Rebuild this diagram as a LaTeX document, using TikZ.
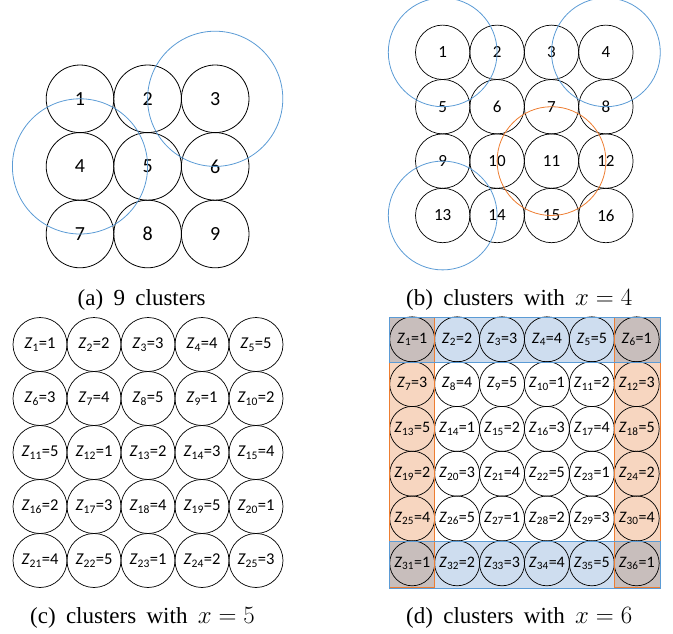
\documentclass[tikz,border=0pt]{standalone}
\usepackage{fontspec}
\setmainfont{Liberation Serif}
\newfontfamily\calfont{Carlito}
\usepackage{tikz}

\definecolor{cblue}{RGB}{91,155,213}
\definecolor{corange}{RGB}{237,125,49}
\definecolor{fblue}{RGB}{206,221,239}
\definecolor{forange}{RGB}{247,214,192}
\definecolor{fcorner}{RGB}{200,190,188}

\newcommand{\zlab}[2]{\textit{Z}\textsubscript{#1}=#2}
\newcommand{\gap}{\hspace{0.45em}}

\tikzset{
  cla/.style={circle, draw, line width=0.8pt, minimum size=67.6pt, inner sep=0pt, font=\calfont\fontsize{20}{24}\selectfont},
  clb/.style={circle, draw, line width=0.7pt, minimum size=54.4pt, inner sep=0pt, font=\calfont\fontsize{17}{20}\selectfont},
  clc/.style={circle, draw, line width=0.7pt, minimum size=54pt, inner sep=0pt, font=\calfont\fontsize{16.5}{20}\selectfont},
  cld/.style={circle, draw, line width=0.7pt, minimum size=45pt, inner sep=0pt, font=\calfont\fontsize{16}{19}\selectfont},
  cover/.style={line width=0.8pt},
  caption/.style={font=\fontsize{23}{27}\selectfont}
}

\begin{document}
\begin{tikzpicture}[x=1pt,y=1pt,yscale=-1,xscale=1]
\useasboundingbox (0,0) rectangle (673,634);

% (a) 9 clusters
\node [cla] (a1) at (80,98.8) {1};
\node [cla] (a2) at (147.6,98.8) {2};
\node [cla] (a3) at (215.2,98.8) {3};
\node [cla] (a4) at (80,166.4) {4};
\node [cla] (a5) at (147.6,166.4) {5};
\node [cla] (a6) at (215.2,166.4) {6};
\node [cla] (a7) at (80,234) {7};
\node [cla] (a8) at (147.6,234) {8};
\node [cla] (a9) at (215.2,234) {9};
%Coverage
\draw [cover, cblue] (a4.center) circle (67.6);
\draw [cover, cblue] (a3.center) circle (67.6);
% Text Node
\node [caption] (capa) at (141.7,299.5) {(a)\gap 9\gap clusters};

% (b) clusters with x = 4
\node [clb] (b1) at (442.7,52.3) {1};
\node [clb] (b2) at (497.1,52.3) {2};
\node [clb] (b3) at (551.5,52.3) {3};
\node [clb] (b4) at (605.9,52.3) {4};
\node [clb] (b5) at (442.7,106.7) {5};
\node [clb] (b6) at (497.1,106.7) {6};
\node [clb] (b7) at (551.5,106.7) {7};
\node [clb] (b8) at (605.9,106.7) {8};
\node [clb] (b9) at (442.7,161.1) {9};
\node [clb] (b10) at (497.1,161.1) {10};
\node [clb] (b11) at (551.5,161.1) {11};
\node [clb] (b12) at (605.9,161.1) {12};
\node [clb] (b13) at (442.7,215.5) {13};
\node [clb] (b14) at (497.1,215.5) {14};
\node [clb] (b15) at (551.5,215.5) {15};
\node [clb] (b16) at (605.9,215.5) {16};
%Coverage
\draw [cover, cblue] (b1.center) circle (54.4);
\draw [cover, cblue] (b4.center) circle (54.4);
\draw [cover, cblue] (b13.center) circle (54.4);
\draw [cover, corange] (b11.center) circle (54.4);
% Text Node
\node [caption] (capb) at (519.2,299.5) {(b)\gap clusters\gap with\gap $x = 4$};

% (c) clusters with x = 5
\node [clc] (c1) at (40,344.5) {\zlab{1}{1}};
\node [clc] (c2) at (94,344.5) {\zlab{2}{2}};
\node [clc] (c3) at (148,344.5) {\zlab{3}{3}};
\node [clc] (c4) at (202,344.5) {\zlab{4}{4}};
\node [clc] (c5) at (256,344.5) {\zlab{5}{5}};
\node [clc] (c6) at (40,398.5) {\zlab{6}{3}};
\node [clc] (c7) at (94,398.5) {\zlab{7}{4}};
\node [clc] (c8) at (148,398.5) {\zlab{8}{5}};
\node [clc] (c9) at (202,398.5) {\zlab{9}{1}};
\node [clc] (c10) at (256,398.5) {\zlab{10}{2}};
\node [clc] (c11) at (40,452.5) {\zlab{11}{5}};
\node [clc] (c12) at (94,452.5) {\zlab{12}{1}};
\node [clc] (c13) at (148,452.5) {\zlab{13}{2}};
\node [clc] (c14) at (202,452.5) {\zlab{14}{3}};
\node [clc] (c15) at (256,452.5) {\zlab{15}{4}};
\node [clc] (c16) at (40,506.5) {\zlab{16}{2}};
\node [clc] (c17) at (94,506.5) {\zlab{17}{3}};
\node [clc] (c18) at (148,506.5) {\zlab{18}{4}};
\node [clc] (c19) at (202,506.5) {\zlab{19}{5}};
\node [clc] (c20) at (256,506.5) {\zlab{20}{1}};
\node [clc] (c21) at (40,560.5) {\zlab{21}{4}};
\node [clc] (c22) at (94,560.5) {\zlab{22}{5}};
\node [clc] (c23) at (148,560.5) {\zlab{23}{1}};
\node [clc] (c24) at (202,560.5) {\zlab{24}{2}};
\node [clc] (c25) at (256,560.5) {\zlab{25}{3}};
% Text Node
\node [caption] (capc) at (142.5,618) {(c)\gap clusters\gap with\gap $x = 5$};

% (d) clusters with x = 6
%Shaded bands
\fill [forange] (389,317) rectangle (434.5,587);
\fill [forange] (614.5,317) rectangle (660,587);
\fill [fblue] (389,317) rectangle (660,362);
\fill [fblue] (389,541) rectangle (660,588);
\fill [fcorner] (389,317) rectangle (434.5,362);
\fill [fcorner] (614.5,317) rectangle (660,362);
\fill [fcorner] (389,541) rectangle (434.5,587);
\fill [fcorner] (614.5,541) rectangle (660,587);

\node [cld] (d1) at (412.2,339.3) {\zlab{1}{1}};
\node [cld] (d2) at (457.1,339.3) {\zlab{2}{2}};
\node [cld] (d3) at (502,339.3) {\zlab{3}{3}};
\node [cld] (d4) at (546.9,339.3) {\zlab{4}{4}};
\node [cld] (d5) at (591.8,339.3) {\zlab{5}{5}};
\node [cld] (d6) at (636.7,339.3) {\zlab{6}{1}};
\node [cld] (d7) at (412.2,384.1) {\zlab{7}{3}};
\node [cld] (d8) at (457.1,384.1) {\zlab{8}{4}};
\node [cld] (d9) at (502,384.1) {\zlab{9}{5}};
\node [cld] (d10) at (546.9,384.1) {\zlab{10}{1}};
\node [cld] (d11) at (591.8,384.1) {\zlab{11}{2}};
\node [cld] (d12) at (636.7,384.1) {\zlab{12}{3}};
\node [cld] (d13) at (412.2,428.9) {\zlab{13}{5}};
\node [cld] (d14) at (457.1,428.9) {\zlab{14}{1}};
\node [cld] (d15) at (502,428.9) {\zlab{15}{2}};
\node [cld] (d16) at (546.9,428.9) {\zlab{16}{3}};
\node [cld] (d17) at (591.8,428.9) {\zlab{17}{4}};
\node [cld] (d18) at (636.7,428.9) {\zlab{18}{5}};
\node [cld] (d19) at (412.2,473.7) {\zlab{19}{2}};
\node [cld] (d20) at (457.1,473.7) {\zlab{20}{3}};
\node [cld] (d21) at (502,473.7) {\zlab{21}{4}};
\node [cld] (d22) at (546.9,473.7) {\zlab{22}{5}};
\node [cld] (d23) at (591.8,473.7) {\zlab{23}{1}};
\node [cld] (d24) at (636.7,473.7) {\zlab{24}{2}};
\node [cld] (d25) at (412.2,518.5) {\zlab{25}{4}};
\node [cld] (d26) at (457.1,518.5) {\zlab{26}{5}};
\node [cld] (d27) at (502,518.5) {\zlab{27}{1}};
\node [cld] (d28) at (546.9,518.5) {\zlab{28}{2}};
\node [cld] (d29) at (591.8,518.5) {\zlab{29}{3}};
\node [cld] (d30) at (636.7,518.5) {\zlab{30}{4}};
\node [cld] (d31) at (412.2,563.3) {\zlab{31}{1}};
\node [cld] (d32) at (457.1,563.3) {\zlab{32}{2}};
\node [cld] (d33) at (502,563.3) {\zlab{33}{3}};
\node [cld] (d34) at (546.9,563.3) {\zlab{34}{4}};
\node [cld] (d35) at (591.8,563.3) {\zlab{35}{5}};
\node [cld] (d36) at (636.7,563.3) {\zlab{36}{1}};

%Band outlines
\draw [corange, line width=0.7pt] (389,317) rectangle (434.5,587);
\draw [corange, line width=0.7pt] (614.5,317) rectangle (660,587);
\draw [cblue, line width=0.7pt] (389,317) rectangle (660,362);
\draw [cblue, line width=0.7pt] (389,541) rectangle (660,588);
% Text Node
\node [caption] (capd) at (519.2,618) {(d)\gap clusters\gap with\gap $x = 6$};

\end{tikzpicture}
\end{document}
